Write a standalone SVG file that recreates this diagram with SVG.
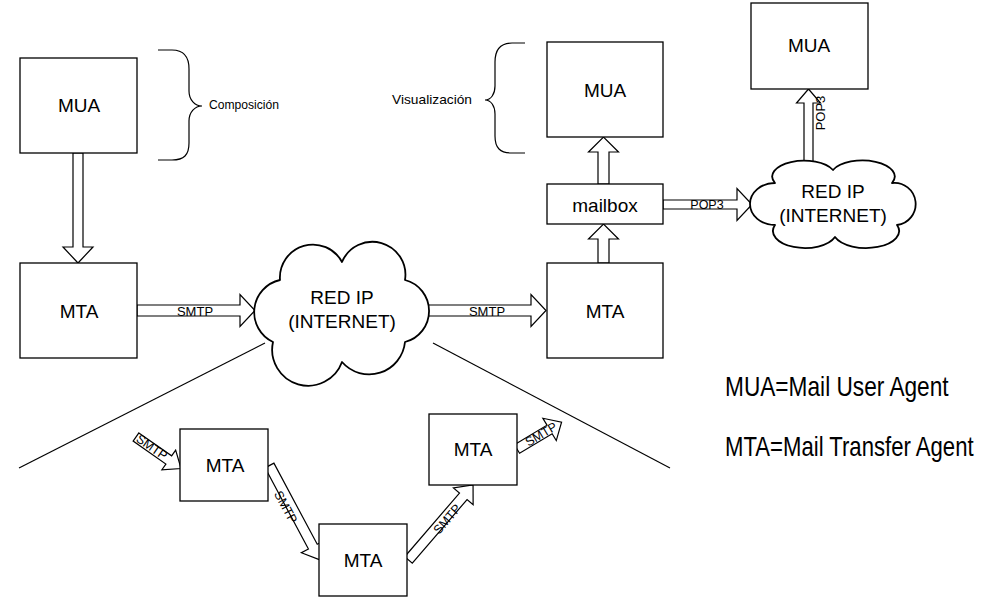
<svg xmlns="http://www.w3.org/2000/svg" width="990" height="603" viewBox="0 0 990 603">
<style>
.box{fill:#fff;stroke:#000;stroke-width:1.3}
.arr{fill:#fff;stroke:#000;stroke-width:1.2;stroke-linejoin:miter}
.ln{fill:none;stroke:#000;stroke-width:1.2}
.cloud{fill:#fff;stroke:#000;stroke-width:1.8;stroke-linejoin:round}
text{font-family:"Liberation Sans",Arial,sans-serif;fill:#000}
.big{font-size:19px;text-anchor:middle}
.lbl{font-size:13px;text-anchor:middle}
.sm{font-size:12.5px;text-anchor:middle}
.note{font-size:13px}
.leg{font-size:27px}
</style>
<rect width="990" height="603" fill="#fff"/>

<g id="connectors">
  <!-- wedge lines -->
  <path class="ln" d="M265,343 L19,468"/>
  <path class="ln" d="M433,343 L670,468"/>
  <!-- MUA -> MTA -->
  <path class="arr" transform="translate(78,153) rotate(90)" d="M0,-5 H94 V-15 L110,0 L94,15 V5 H0 Z"/>
  <!-- SMTP 1 -->
  <path class="arr" transform="translate(137,310.5)" d="M0,-5.5 H103 V-16 L118,0 L103,16 V5.5 H0 Z"/>
  <text class="lbl" x="195" y="315.5">SMTP</text>
  <!-- SMTP 2 -->
  <path class="arr" transform="translate(426,310.5)" d="M0,-5.5 H105 V-16 L120,0 L105,16 V5.5 H0 Z"/>
  <text class="lbl" x="487" y="315.5">SMTP</text>
  <!-- MTA -> mailbox -->
  <path class="arr" transform="translate(603.5,263) rotate(-90)" d="M0,-5.5 H24 V-15 L39,0 L24,15 V5.5 H0 Z"/>
  <!-- mailbox -> MUA -->
  <path class="arr" transform="translate(603.5,184) rotate(-90)" d="M0,-5.5 H32 V-15 L47,0 L32,15 V5.5 H0 Z"/>
  <!-- POP3 horizontal -->
  <path class="arr" transform="translate(663,204.5)" d="M0,-4.5 H74 V-16 L89,0 L74,16 V4.5 H0 Z"/>
  <text class="sm" x="707" y="209">POP3</text>
  <!-- POP3 vertical -->
  <path class="arr" transform="translate(808.5,168) rotate(-90)" d="M0,-4.5 H65 V-12 L79,0 L65,12 V4.5 H0 Z"/>
  <text class="lbl" transform="translate(825,113) rotate(-90)">POP3</text>
  <!-- bottom chain -->
  <path class="arr" transform="translate(136,437) rotate(35)" d="M0,-5 H40 V-12 L55,0 L40,12 V5 H0 Z"/>
  <text class="sm" transform="translate(152,447) rotate(35)" dy="4.5">SMTP</text>
  <path class="arr" transform="translate(269.5,465.5) rotate(61.9)" d="M0,-5 H92 V-13 L107,0 L92,13 V5 H0 Z"/>
  <text class="sm" transform="translate(286,507) rotate(61.9)" dy="4.5">SMTP</text>
  <path class="arr" transform="translate(408.5,560) rotate(-49.3)" d="M0,-5 H84 V-13 L99,0 L84,13 V5 H0 Z"/>
  <text class="sm" transform="translate(447,519) rotate(-49.3)" dy="4.5">SMTP</text>
  <path class="arr" transform="translate(517,449) rotate(-31)" d="M0,-5 H38 V-13 L52,0 L38,13 V5 H0 Z"/>
  <text class="sm" transform="translate(541,434) rotate(-31)" dy="4.5">SMTP</text>
</g>

<g id="mua1">
  <rect class="box" x="20" y="58" width="117" height="95"/>
  <text class="big" x="79" y="112">MUA</text>
</g>
<g id="brace-composicion">
  <path class="ln" d="M158,50 L172,50 C184,50 189,57 189,69 L189,91 C189,100 195,106 202,106 C195,106 189,112 189,121 L189,143 C189,155 184,160 172,160 L158,160"/>
  <text class="note" x="209" y="109" textLength="70" lengthAdjust="spacingAndGlyphs">Composición</text>
</g>
<g id="mta1">
  <rect class="box" x="20" y="263" width="117" height="95"/>
  <text class="big" x="79" y="318">MTA</text>
</g>
<g id="cloud1">
  <path class="cloud" d="M280,280 A33,33 0 0 1 342,262 A33,33 0 0 1 405,280 A32,32 0 0 1 405,342 A36,36 0 0 1 342,362 A36,36 0 0 1 273,342 A33,33 0 0 1 280,280 Z"/>
  <text class="big" x="342" y="304">RED IP</text>
  <text class="big" x="342" y="328">(INTERNET)</text>
</g>
<g id="mta2">
  <rect class="box" x="547" y="263" width="116" height="95"/>
  <text class="big" x="605" y="318">MTA</text>
</g>
<g id="mailbox">
  <rect class="box" x="547" y="184" width="116" height="40"/>
  <text class="big" x="605" y="212">mailbox</text>
</g>
<g id="mua2">
  <rect class="box" x="547" y="42" width="116" height="95"/>
  <text class="big" x="605" y="97">MUA</text>
</g>
<g id="brace-visualizacion">
  <path class="ln" d="M525,43 L512,43 C500,43 495,50 495,62 L495,86 C495,94 491,100 485,100 C491,100 495,106 495,114 L495,136 C495,148 500,153 512,153 L525,153"/>
  <text class="note" x="472" y="104" text-anchor="end" textLength="80" lengthAdjust="spacingAndGlyphs">Visualización</text>
</g>
<g id="cloud2">
  <path class="cloud" d="M775,183 A30,15 0 0 1 833,170 A30,15 0 0 1 892,183 A21,21 0 0 1 897,225 A31,16 0 0 1 835,237 A30,16 0 0 1 775,225 A25,21 0 0 1 775,183 Z"/>
  <text class="big" x="833" y="198">RED IP</text>
  <text class="big" x="833" y="222">(INTERNET)</text>
</g>
<g id="mua3">
  <rect class="box" x="751" y="3" width="117" height="86"/>
  <text class="big" x="809" y="52">MUA</text>
</g>
<g id="mta-a">
  <rect class="box" x="180" y="429" width="88" height="72"/>
  <text class="big" x="225" y="472">MTA</text>
</g>
<g id="mta-b">
  <rect class="box" x="319" y="524" width="88" height="72"/>
  <text class="big" x="363" y="567">MTA</text>
</g>
<g id="mta-c">
  <rect class="box" x="429" y="414" width="88" height="71"/>
  <text class="big" x="473" y="456">MTA</text>
</g>
<g id="legend">
  <text class="leg" transform="translate(725,396) scale(0.84,1)">MUA=Mail User Agent</text>
  <text class="leg" transform="translate(725,456) scale(0.82,1)">MTA=Mail Transfer Agent</text>
</g>
</svg>
